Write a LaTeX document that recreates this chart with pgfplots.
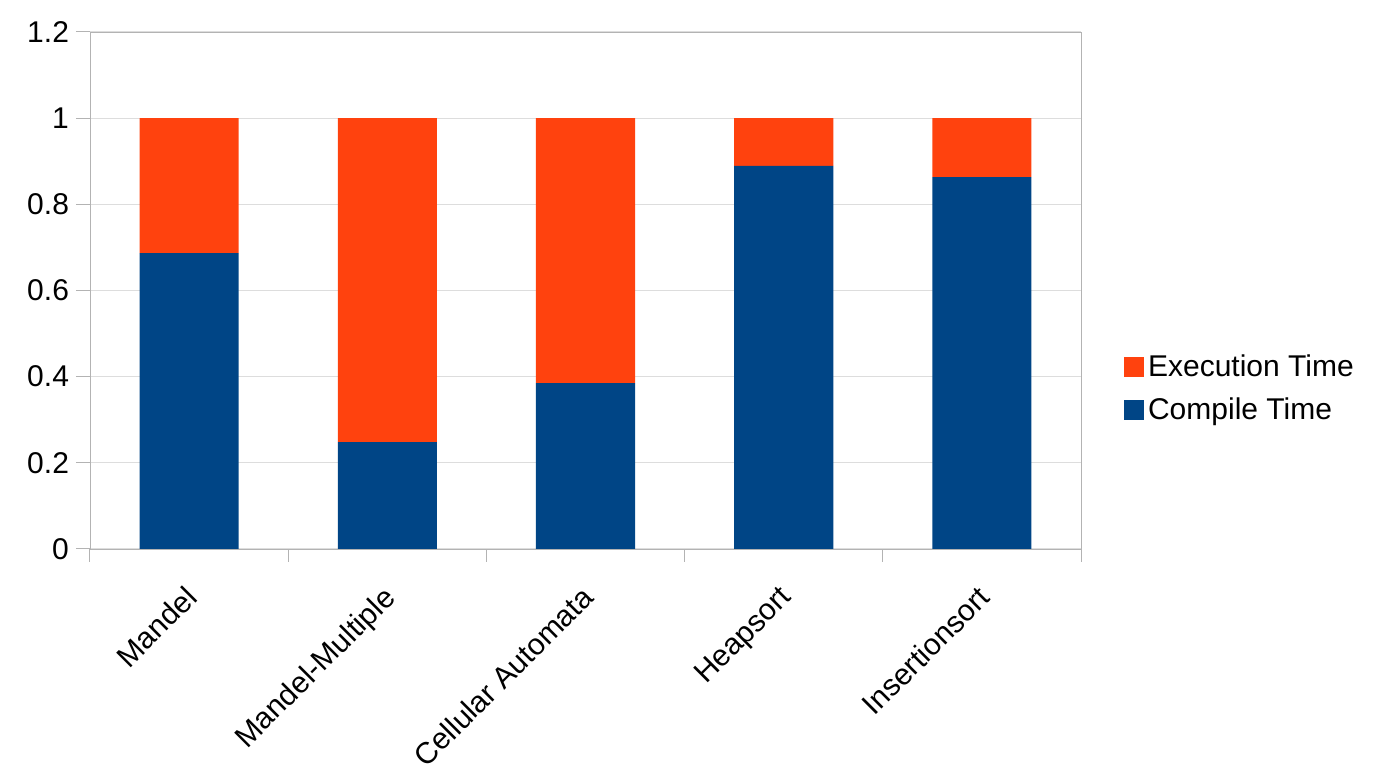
\documentclass[border=0pt]{standalone}
\usepackage{pgfplots}
\pgfplotsset{compat=1.18}
\usepackage{fontspec}
\setmainfont{Liberation Sans}
\definecolor{compblue}{HTML}{004586}
\definecolor{execorange}{HTML}{FF420E}
\definecolor{framegray}{HTML}{B3B3B3}
\definecolor{gridgray}{HTML}{DDDDDD}
\begin{document}
\begin{tikzpicture}
\path[use as bounding box] (-45pt,-115pt) rectangle (647pt,274.5pt);
\begin{axis}[
    at={(0,0)}, anchor=south west,
    scale only axis,
    width=495.5pt,
    height=258.5pt,
    ybar stacked,
    bar width=0.5,
    xmin=-0.5, xmax=4.5,
    ymin=0, ymax=1.2,
    xtick={0,1,2,3,4},
    xticklabels={Mandel,Mandel-Multiple,Cellular Automata,Heapsort,Insertionsort},
    major x tick style={draw=none},
    minor xtick={-0.5,0.5,1.5,2.5,3.5,4.5},
    minor tick length=6.5pt,
    major tick length=7pt,
    tick align=outside,
    xtick pos=bottom,
    ytick pos=left,
    ytick={0,0.2,0.4,0.6,0.8,1,1.2},
    ymajorgrids,
    grid style={gridgray, line width=0.5pt},
    axis line style={framegray},
    tick style={framegray, line width=0.5pt},
    every tick label/.append style={font=\fontsize{15}{18}\selectfont},
    x tick label style={rotate=45, anchor=north east, xshift=-6pt, yshift=-2pt},
    /pgf/number format/assume math mode=true,
    legend style={at={(1.037,0.31)}, anchor=west, draw=none,
        font=\fontsize{15}{18}\selectfont, row sep=5pt},
    legend cell align=left,
    reverse legend,
    legend image code/.code={\fill[#1] (0pt,-5pt) rectangle (10pt,5pt);},
]
\addplot[fill=compblue, draw=none] coordinates {
    (0, 0.687) (1, 0.248) (2, 0.385) (3, 0.889) (4, 0.863)
};
\addlegendentry{Compile Time}
\addplot[fill=execorange, draw=none] coordinates {
    (0, 0.313) (1, 0.752) (2, 0.615) (3, 0.111) (4, 0.137)
};
\addlegendentry{Execution Time}
\end{axis}
\end{tikzpicture}
\end{document}
